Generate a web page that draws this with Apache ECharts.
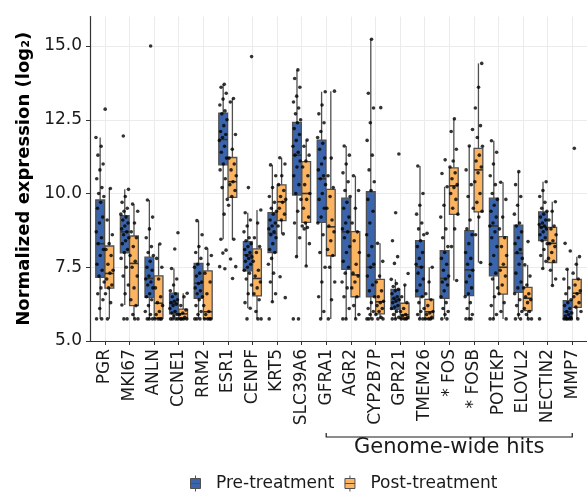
<!DOCTYPE html>
<html>
<head>
<meta charset="utf-8">
<script src="https://cdn.jsdelivr.net/npm/echarts@6/dist/echarts.min.js"></script>
<style>
  html, body { margin: 0; padding: 0; background: #fff; }
  #chart { width: 587px; height: 492px; }
</style>
</head>
<body>
<div id="chart"></div>
<script>
// genes on the x axis
const genes = ['PGR', 'MKI67', 'ANLN', 'CCNE1', 'RRM2', 'ESR1', 'CENPF', 'KRT5', 'SLC39A6', 'GFRA1',
  'AGR2', 'CYP2B7P', 'GPR21', 'TMEM26', '* FOS', '* FOSB', 'POTEKP', 'ELOVL2', 'NECTIN2', 'MMP7'];
const yTicks = [5, 7.5, 10, 12.5, 15];
const seriesNames = ['Pre-treatment', 'Post-treatment'];
const bracketFrom = 9;   // GFRA1
const bracketTo = 19;    // MMP7
const bracketLabel = 'Genome-wide hits';

// box stats per gene: [lower whisker, Q1, median, Q3, upper whisker]
const preBox = [
  [5.75, 7.16, 8.3, 9.78, 11.9], [6.22, 7.99, 8.7, 9.25, 10.14], [5.75, 6.48, 7.12, 7.84, 9.78],
  [5.75, 5.92, 6.28, 6.62, 7.46], [5.75, 6.45, 6.96, 7.63, 9.08], [8.45, 10.97, 11.83, 12.72, 13.7],
  [6.11, 7.38, 7.92, 8.37, 9.35], [6.33, 8.0, 8.65, 9.35, 10.97], [7.86, 9.95, 11.3, 12.41, 14.19],
  [5.75, 9.02, 10.5, 11.81, 13.45], [5.75, 7.43, 8.7, 9.84, 11.61], [5.75, 6.5, 7.5, 10.06, 15.23],
  [5.75, 6.07, 6.41, 6.75, 7.09], [5.75, 6.5, 7.52, 8.4, 10.93], [5.75, 6.45, 7.12, 8.06, 10.23],
  [5.75, 6.54, 7.41, 8.74, 11.61], [5.75, 7.21, 8.9, 9.84, 11.79], [5.75, 6.65, 7.97, 8.93, 10.74],
  [7.46, 8.4, 8.87, 9.38, 10.4], [5.75, 5.75, 5.99, 6.37, 7.43]
];
const postBox = [
  [5.75, 6.79, 7.29, 8.22, 10.17], [5.75, 6.2, 7.63, 8.56, 9.64], [5.75, 5.77, 6.28, 7.21, 8.29],
  [5.75, 5.75, 5.92, 6.08, 6.62], [5.75, 5.76, 5.99, 7.38, 8.14], [8.45, 9.87, 10.4, 11.22, 13.22],
  [5.75, 6.53, 7.12, 8.12, 9.44], [8.63, 9.08, 9.72, 10.29, 11.21], [7.54, 9.02, 10.0, 11.08, 11.81],
  [5.75, 7.89, 8.87, 10.14, 13.47], [5.75, 6.5, 7.24, 8.71, 10.6], [5.75, 5.92, 6.33, 7.09, 8.31],
  [5.75, 5.75, 5.89, 6.28, 6.9], [5.75, 5.75, 5.99, 6.41, 7.5], [7.05, 9.29, 10.26, 10.87, 12.53],
  [7.66, 9.38, 10.8, 11.53, 14.41], [5.75, 6.59, 7.5, 8.54, 10.38], [5.75, 6.03, 6.45, 6.82, 7.58],
  [6.88, 7.66, 8.31, 8.85, 9.72], [5.75, 6.14, 6.62, 7.09, 7.86]
];

// individual samples
const prePoints = [
  [11.9, 11.6, 11.3, 11.0, 10.8, 10.5, 10.2, 10.0, 9.9, 9.7, 9.5, 9.2, 9.0, 8.7, 8.5, 8.3, 8.1, 7.9, 7.6, 7.4, 7.2, 7.0, 6.8, 6.6, 6.4, 6.1, 5.75, 5.75],
  [11.95, 10.14, 9.9, 9.7, 9.5, 9.4, 9.3, 9.2, 9.1, 9.0, 8.9, 8.8, 8.7, 8.6, 8.5, 8.4, 8.3, 8.1, 8.0, 7.8, 7.5, 7.2, 6.9, 6.6, 6.22, 5.75, 5.75],
  [15.0, 9.78, 9.2, 8.8, 8.5, 8.2, 8.0, 7.9, 7.7, 7.5, 7.4, 7.2, 7.1, 7.0, 6.9, 6.8, 6.6, 6.5, 6.4, 6.2, 6.0, 5.9, 5.75, 5.75, 5.75],
  [8.67, 8.12, 7.46, 7.1, 6.9, 6.7, 6.6, 6.5, 6.4, 6.35, 6.3, 6.25, 6.2, 6.1, 6.0, 5.95, 5.9, 5.85, 5.75, 5.75, 5.75, 5.75],
  [9.08, 8.6, 8.2, 8.0, 7.8, 7.6, 7.5, 7.3, 7.2, 7.0, 6.95, 6.8, 6.7, 6.6, 6.5, 6.4, 6.2, 6.0, 5.9, 5.75, 5.75, 5.75],
  [13.7, 13.6, 13.4, 13.2, 13.0, 12.8, 12.7, 12.5, 12.3, 12.1, 12.0, 11.9, 11.8, 11.6, 11.4, 11.2, 11.0, 10.8, 10.5, 10.2, 9.8, 9.3, 8.45, 8.08, 7.98, 7.52, 7.45],
  [14.64, 10.2, 9.35, 9.1, 8.9, 8.7, 8.5, 8.4, 8.3, 8.2, 8.1, 8.0, 7.9, 7.85, 7.8, 7.7, 7.6, 7.5, 7.4, 7.3, 7.1, 6.9, 6.6, 6.3, 6.11, 5.75],
  [10.97, 10.6, 10.2, 9.9, 9.7, 9.5, 9.4, 9.3, 9.1, 9.0, 8.9, 8.8, 8.7, 8.6, 8.5, 8.3, 8.1, 8.0, 7.8, 7.6, 7.3, 7.0, 6.6, 6.33, 5.75],
  [14.19, 13.9, 13.6, 13.3, 13.1, 12.9, 12.7, 12.5, 12.4, 12.2, 12.0, 11.8, 11.6, 11.4, 11.3, 11.1, 10.9, 10.6, 10.3, 10.0, 9.8, 9.4, 9.0, 8.5, 7.86, 5.75, 5.75],
  [13.45, 13.0, 12.7, 12.4, 12.1, 11.9, 11.7, 11.5, 11.2, 11.0, 10.8, 10.6, 10.5, 10.3, 10.0, 9.8, 9.5, 9.2, 9.0, 8.6, 8.0, 7.5, 7.0, 6.5, 6.0, 5.75],
  [11.61, 11.3, 11.0, 10.7, 10.4, 10.1, 9.9, 9.7, 9.5, 9.2, 9.0, 8.8, 8.7, 8.5, 8.2, 8.0, 7.7, 7.5, 7.3, 7.0, 6.8, 6.5, 6.1, 5.75, 5.75],
  [15.23, 13.4, 12.9, 12.4, 11.8, 11.3, 10.8, 10.4, 10.1, 9.8, 9.4, 9.0, 8.6, 8.2, 7.9, 7.6, 7.5, 7.2, 6.9, 6.7, 6.5, 6.3, 6.1, 6.0, 5.9, 5.75, 5.75, 5.75],
  [11.34, 9.35, 8.4, 7.86, 7.63, 7.09, 6.95, 6.85, 6.75, 6.7, 6.6, 6.5, 6.45, 6.4, 6.35, 6.3, 6.2, 6.15, 6.1, 6.0, 5.9, 5.8, 5.75, 5.75],
  [10.93, 10.0, 9.6, 9.3, 9.0, 8.8, 8.6, 8.4, 8.2, 8.0, 7.8, 7.6, 7.5, 7.3, 7.1, 6.9, 6.7, 6.5, 6.3, 6.1, 6.0, 5.9, 5.75, 5.75],
  [11.14, 10.68, 10.23, 9.6, 9.2, 8.8, 8.5, 8.2, 8.0, 7.8, 7.6, 7.4, 7.2, 7.1, 7.0, 6.9, 6.7, 6.5, 6.3, 6.1, 6.0, 5.9, 5.75, 5.75],
  [12.17, 11.61, 10.8, 10.3, 9.9, 9.5, 9.1, 8.8, 8.6, 8.3, 8.0, 7.8, 7.6, 7.4, 7.2, 7.0, 6.8, 6.6, 6.5, 6.3, 6.1, 5.9, 5.75, 5.75, 5.75],
  [11.79, 11.4, 11.0, 10.6, 10.3, 10.0, 9.8, 9.6, 9.4, 9.2, 9.0, 8.9, 8.7, 8.5, 8.2, 7.9, 7.6, 7.3, 7.1, 6.8, 6.5, 6.2, 5.9, 5.75, 5.75],
  [10.74, 10.3, 9.9, 9.6, 9.3, 9.0, 8.9, 8.7, 8.5, 8.3, 8.1, 8.0, 7.8, 7.6, 7.3, 7.0, 6.8, 6.6, 6.4, 6.2, 6.0, 5.9, 5.75, 5.75],
  [10.4, 10.1, 9.9, 9.7, 9.5, 9.4, 9.3, 9.2, 9.1, 9.0, 8.95, 8.9, 8.85, 8.8, 8.7, 8.6, 8.5, 8.4, 8.3, 8.1, 7.9, 7.7, 7.46, 5.75],
  [8.31, 8.05, 7.43, 7.1, 6.8, 6.6, 6.4, 6.3, 6.2, 6.1, 6.0, 5.95, 5.9, 5.85, 5.8, 5.75, 5.75, 5.75, 5.75, 5.75]
];
const postPoints = [
  [12.86, 10.17, 9.1, 8.6, 8.3, 8.1, 7.9, 7.6, 7.4, 7.3, 7.1, 6.9, 6.8, 6.6, 6.3, 5.75],
  [9.64, 9.4, 9.0, 8.7, 8.5, 8.2, 7.9, 7.7, 7.5, 7.2, 6.8, 6.4, 6.2, 5.9, 5.75, 5.75],
  [8.29, 7.8, 7.5, 7.1, 6.8, 6.5, 6.3, 6.2, 6.0, 5.9, 5.75, 5.75, 5.75, 5.75],
  [6.62, 6.5, 6.2, 6.05, 5.95, 5.9, 5.8, 5.75, 5.75, 5.75, 5.75],
  [8.14, 7.9, 7.6, 7.3, 7.0, 6.6, 6.2, 6.0, 5.9, 5.75, 5.75, 5.75, 5.75],
  [13.22, 13.1, 12.0, 11.5, 11.2, 11.0, 10.8, 10.6, 10.4, 10.3, 10.1, 9.9, 9.6, 8.45, 7.78, 7.52, 7.12],
  [9.44, 9.0, 8.5, 8.2, 8.0, 7.7, 7.4, 7.2, 7.0, 6.8, 6.6, 6.4, 6.0, 5.75, 5.75],
  [11.21, 11.0, 10.6, 10.3, 10.1, 9.9, 9.8, 9.7, 9.5, 9.3, 9.1, 8.9, 8.63, 7.18, 6.47],
  [11.81, 11.6, 11.3, 11.1, 10.9, 10.6, 10.3, 10.0, 9.8, 9.5, 9.2, 9.0, 8.9, 8.85, 8.8, 8.3, 7.54],
  [13.47, 11.2, 10.6, 10.2, 9.9, 9.5, 9.1, 8.9, 8.7, 8.4, 8.1, 7.9, 7.5, 7.0, 6.4, 5.75],
  [10.6, 10.1, 9.5, 9.0, 8.7, 8.4, 8.0, 7.6, 7.3, 7.2, 7.0, 6.8, 6.5, 6.2, 5.9, 5.75],
  [12.91, 8.31, 7.7, 7.2, 7.0, 6.7, 6.5, 6.35, 6.3, 6.2, 6.1, 6.0, 5.9, 5.8, 5.75, 5.75],
  [7.29, 6.9, 6.5, 6.3, 6.1, 6.0, 5.9, 5.85, 5.8, 5.75, 5.75, 5.75],
  [8.65, 7.5, 7.0, 6.6, 6.4, 6.2, 6.0, 5.95, 5.9, 5.8, 5.75, 5.75, 5.75],
  [12.53, 12.1, 11.5, 11.1, 10.9, 10.7, 10.5, 10.3, 10.2, 10.0, 9.8, 9.5, 9.3, 8.8, 8.2, 7.05],
  [14.41, 13.6, 12.9, 12.3, 11.9, 11.6, 11.3, 11.1, 10.9, 10.7, 10.4, 10.0, 9.7, 9.4, 9.2, 8.6, 7.66],
  [10.38, 9.8, 9.2, 8.8, 8.5, 8.2, 7.9, 7.6, 7.4, 7.2, 6.9, 6.6, 6.3, 6.0, 5.75],
  [8.37, 7.58, 7.2, 6.9, 6.8, 6.6, 6.5, 6.4, 6.3, 6.1, 6.0, 5.9, 5.75, 5.75],
  [9.72, 9.4, 9.1, 8.9, 8.8, 8.6, 8.4, 8.3, 8.2, 8.0, 7.8, 7.7, 7.4, 7.1, 6.88],
  [11.53, 7.86, 7.6, 7.3, 7.1, 6.9, 6.7, 6.6, 6.5, 6.3, 6.15, 6.0, 5.75]
];

const colors = ['#3A65AC', '#FBB461'];
const font = 'DejaVu Sans';
const dodge = 0.1875; // half of dodge width 0.75

// deterministic spread of the dots around each box centre
function spread(k, i) {
  return (((k + i * 7) * 0.618034) % 1 - 0.5) * 0.34;
}

function boxRows(stats) {
  return stats.map((s, i) => [i].concat(s));
}

function pointRows(points, offset) {
  const rows = [];
  points.forEach((list, i) => {
    list.forEach((v, k) => {
      rows.push([i + offset + spread(k, i), v]);
    });
  });
  return rows;
}

function boxRenderer(offset) {
  return function (params, api) {
    const x = api.value(0) + offset;
    const half = api.size([dodge, 0])[0] * 0.95;
    const low = api.coord([x, api.value(1)]);
    const q1 = api.coord([x, api.value(2)]);
    const med = api.coord([x, api.value(3)]);
    const q3 = api.coord([x, api.value(4)]);
    const high = api.coord([x, api.value(5)]);
    const line = { stroke: '#505050', lineWidth: 1.3 };
    return {
      type: 'group',
      children: [
        { type: 'line', shape: { x1: low[0], y1: low[1], x2: q1[0], y2: q1[1] }, style: line },
        { type: 'line', shape: { x1: q3[0], y1: q3[1], x2: high[0], y2: high[1] }, style: line },
        {
          type: 'rect',
          shape: { x: med[0] - half, y: q3[1], width: half * 2, height: q1[1] - q3[1] },
          style: { fill: api.visual('color'), stroke: '#505050', lineWidth: 1.3 }
        },
        {
          type: 'line',
          shape: { x1: med[0] - half, y1: med[1], x2: med[0] + half, y2: med[1] },
          style: { stroke: '#333', lineWidth: 1.6 }
        }
      ]
    };
  };
}

const geneIdx = genes.map((g, i) => i);
const legendIcon = 'path://M1,3 H11 V13 H1 Z M1,8 H11 M6,0 V3 M6,13 V16';

const chart = echarts.init(document.getElementById('chart'));
chart.setOption({
  animation: false,
  color: colors,
  textStyle: { fontFamily: font },
  grid: { left: 90, right: 0, top: 16.5, bottom: 151 },
  legend: {
    left: 185,
    top: 470,
    itemWidth: 11,
    itemHeight: 16,
    itemGap: 10,
    data: seriesNames.map(n => ({ name: n, icon: legendIcon })),
    itemStyle: { borderColor: '#505050', borderWidth: 1 },
    textStyle: { fontSize: 17, color: '#1a1a1a', fontFamily: font, padding: [0, 0, 0, 10] }
  },
  xAxis: {
    type: 'value',
    min: -0.6,
    max: genes.length - 1 + 0.6,
    axisLine: { show: true, onZero: false, lineStyle: { color: '#333', width: 1.2 } },
    axisTick: { show: true, customValues: geneIdx, length: 4, lineStyle: { color: '#333' } },
    axisLabel: {
      customValues: geneIdx,
      formatter: v => genes[Math.round(v)],
      rotate: 90,
      margin: 8,
      fontSize: 17,
      color: '#1a1a1a',
      fontFamily: font
    },
    splitLine: { show: true, customValues: geneIdx, lineStyle: { color: '#EBEBEB', width: 1 } }
  },
  yAxis: {
    type: 'value',
    min: 5,
    max: 16,
    name: 'Normalized expression (log₂)',
    nameLocation: 'middle',
    nameRotate: 90,
    nameGap: 57,
    nameTextStyle: { fontSize: 18, fontWeight: 'bold', color: '#000', fontFamily: font },
    axisLine: { show: true, onZero: false, lineStyle: { color: '#333', width: 1.2 } },
    axisTick: { show: true, customValues: yTicks, length: 4, lineStyle: { color: '#333' } },
    axisLabel: {
      customValues: yTicks,
      formatter: v => v.toFixed(1),
      margin: 8,
      fontSize: 17,
      color: '#1a1a1a',
      fontFamily: font
    },
    splitLine: { show: true, customValues: yTicks, lineStyle: { color: '#EBEBEB', width: 1 } }
  },
  series: [
    {
      name: seriesNames[0],
      type: 'custom',
      renderItem: boxRenderer(-dodge),
      itemStyle: { color: colors[0] },
      encode: { x: 0, y: [1, 2, 3, 4, 5] },
      data: boxRows(preBox)
    },
    {
      name: seriesNames[1],
      type: 'custom',
      renderItem: boxRenderer(dodge),
      itemStyle: { color: colors[1] },
      encode: { x: 0, y: [1, 2, 3, 4, 5] },
      data: boxRows(postBox)
    },
    {
      name: 'pre-points',
      type: 'scatter',
      symbolSize: 3.6,
      itemStyle: { color: '#000' },
      silent: true,
      data: pointRows(prePoints, -dodge)
    },
    {
      name: 'post-points',
      type: 'scatter',
      symbolSize: 3.6,
      itemStyle: { color: '#000' },
      silent: true,
      data: pointRows(postPoints, dodge)
    }
  ]
});

// bracket under the genome-wide hits
const pA = chart.convertToPixel({ gridIndex: 0 }, [bracketFrom, 5]);
const pB = chart.convertToPixel({ gridIndex: 0 }, [bracketTo, 5]);
const yb = pA[1] + 96;
chart.setOption({
  graphic: [
    {
      type: 'polyline',
      shape: { points: [[pA[0], yb - 4], [pA[0], yb], [pB[0], yb], [pB[0], yb - 4]] },
      style: { stroke: '#1a1a1a', lineWidth: 1.2, fill: null }
    },
    {
      type: 'text',
      x: (pA[0] + pB[0]) / 2,
      y: yb + 11,
      style: {
        text: bracketLabel,
        fontSize: 21,
        fontFamily: font,
        fill: '#1a1a1a',
        align: 'center',
        verticalAlign: 'middle',
        textAlign: 'center',
        textVerticalAlign: 'middle'
      }
    }
  ]
});
</script>
</body>
</html>
